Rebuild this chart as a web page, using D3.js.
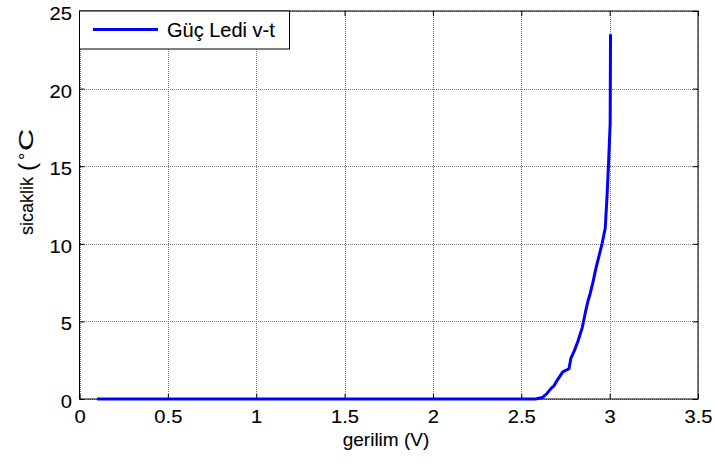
<!DOCTYPE html>
<html>
<head>
<meta charset="utf-8">
<script src="https://cdn.jsdelivr.net/npm/d3@7"></script>
<style>
  html, body { margin: 0; padding: 0; background: #fff; }
  svg { display: block; }
  text { font-family: Arial, "Liberation Sans", sans-serif; fill: #000; stroke: #000; stroke-width: 0.1px; }
</style>
</head>
<body>
<svg id="chart" width="715" height="464"></svg>
<script>
// Measured LED voltage (V) and temperature rise (°C)
const voltage = [0.1, 0.5, 1.0, 1.5, 2.0, 2.5, 2.58, 2.62, 2.645, 2.67, 2.685, 2.70, 2.735, 2.77, 2.78, 2.80, 2.82, 2.845, 2.865, 2.877, 2.89, 2.905, 2.92, 2.935, 2.957, 2.975, 2.985, 2.995, 3.003, 3.005];
const temperature = [0, 0, 0, 0, 0, 0, 0, 0.1, 0.35, 0.7, 0.85, 1.15, 1.75, 1.95, 2.6, 3.1, 3.7, 4.6, 5.7, 6.3, 6.8, 7.5, 8.3, 9.0, 10.0, 11.0, 13.0, 15.5, 17.8, 23.5];

const xTicks = [0, 0.5, 1, 1.5, 2, 2.5, 3, 3.5];
const yTicks = [0, 5, 10, 15, 20, 25];
const seriesName = "Güç Ledi v-t";
const xTitle = "gerilim (V)";
const yTitle = "sicaklik";

const svg = d3.select("#chart");
const L = 79.5, R = 698, T = 11, B = 399;

const x = d3.scaleLinear().domain([0, 3.5]).range([L, R]);
const y = d3.scaleLinear().domain([0, 25]).range([B, T]);

// dotted grid
const grid = svg.append("g").attr("stroke", "#7a7a7a").attr("stroke-width", 1)
  .attr("stroke-dasharray", "1,1").attr("shape-rendering", "crispEdges");
grid.selectAll(".gx").data(xTicks).join("line")
  .attr("x1", d => Math.round(x(d)) + 0.5).attr("x2", d => Math.round(x(d)) + 0.5)
  .attr("y1", T).attr("y2", B);
grid.selectAll(".gy").data(yTicks).join("line")
  .attr("y1", d => Math.round(y(d)) + 0.5).attr("y2", d => Math.round(y(d)) + 0.5)
  .attr("x1", L).attr("x2", R);

// axes with inward ticks on all four sides
const tickLen = 5;
const fmt = d => String(d);
const sx = 1.12; // glyph width factor for tick labels
const axBottom = svg.append("g").attr("transform", `translate(0,${B})`)
  .call(d3.axisBottom(x).tickValues(xTicks).tickFormat(fmt).tickSizeInner(-tickLen).tickSizeOuter(0));
const axTop = svg.append("g").attr("transform", `translate(0,${T})`)
  .call(d3.axisTop(x).tickValues(xTicks).tickFormat("").tickSizeInner(-tickLen).tickSizeOuter(0));
const axLeft = svg.append("g").attr("transform", `translate(${L},0)`)
  .call(d3.axisLeft(y).tickValues(yTicks).tickFormat(fmt).tickSizeInner(-tickLen).tickSizeOuter(0));
const axRight = svg.append("g").attr("transform", `translate(${R},0)`)
  .call(d3.axisRight(y).tickValues(yTicks).tickFormat("").tickSizeInner(-tickLen).tickSizeOuter(0));

[axBottom, axTop, axLeft, axRight].forEach(g => {
  g.selectAll(".domain").remove();
  g.selectAll("line").attr("stroke", "#000");
  g.selectAll("text").attr("font-size", 18).attr("font-family", "Arial, 'Liberation Sans', sans-serif").attr("fill", "#000");
});
axBottom.selectAll("text").attr("transform", `scale(${sx},1)`).attr("y", 24.5).attr("dy", 0);
axLeft.selectAll("text").attr("transform", `scale(${sx},1)`).attr("x", -7.5 / sx).attr("dy", 8.4);

// axes box
svg.append("rect").attr("x", L).attr("y", T).attr("width", R - L).attr("height", B - T)
  .attr("fill", "none").attr("stroke", "#000").attr("stroke-width", 1);

// data line
const line = d3.line().x((d, i) => x(voltage[i])).y((d, i) => y(temperature[i]));
svg.append("path").datum(temperature).attr("d", line)
  .attr("fill", "none").attr("stroke", "#0000ff").attr("stroke-width", 3)
  .attr("stroke-linejoin", "round");

// legend
const lg = svg.append("g");
lg.append("rect").attr("x", L).attr("y", T).attr("width", 210).attr("height", 38)
  .attr("fill", "#fff").attr("stroke", "#000").attr("stroke-width", 1);
lg.append("line").attr("x1", 93).attr("x2", 158).attr("y1", 29.5).attr("y2", 29.5)
  .attr("stroke", "#0000ff").attr("stroke-width", 3);
lg.append("text").attr("x", 167).attr("y", 37).attr("font-size", 20).text(seriesName);

// axis titles
svg.append("text").attr("x", 386).attr("y", 446).attr("text-anchor", "middle")
  .attr("font-size", 19).text(xTitle);

const yl = svg.append("g").attr("transform", "translate(33,235) rotate(-90)");
yl.append("text").attr("x", 0).attr("y", 0).attr("font-size", 18).text(yTitle);
yl.append("text").attr("x", 64).attr("y", 2).attr("font-size", 24).text("(");
yl.append("text").attr("x", 75).attr("y", -1).attr("font-size", 18).text("°");
yl.append("text").attr("x", 84).attr("y", 0).attr("font-size", 21)
  .attr("textLength", 22).attr("lengthAdjust", "spacingAndGlyphs").text("C");
</script>
</body>
</html>
